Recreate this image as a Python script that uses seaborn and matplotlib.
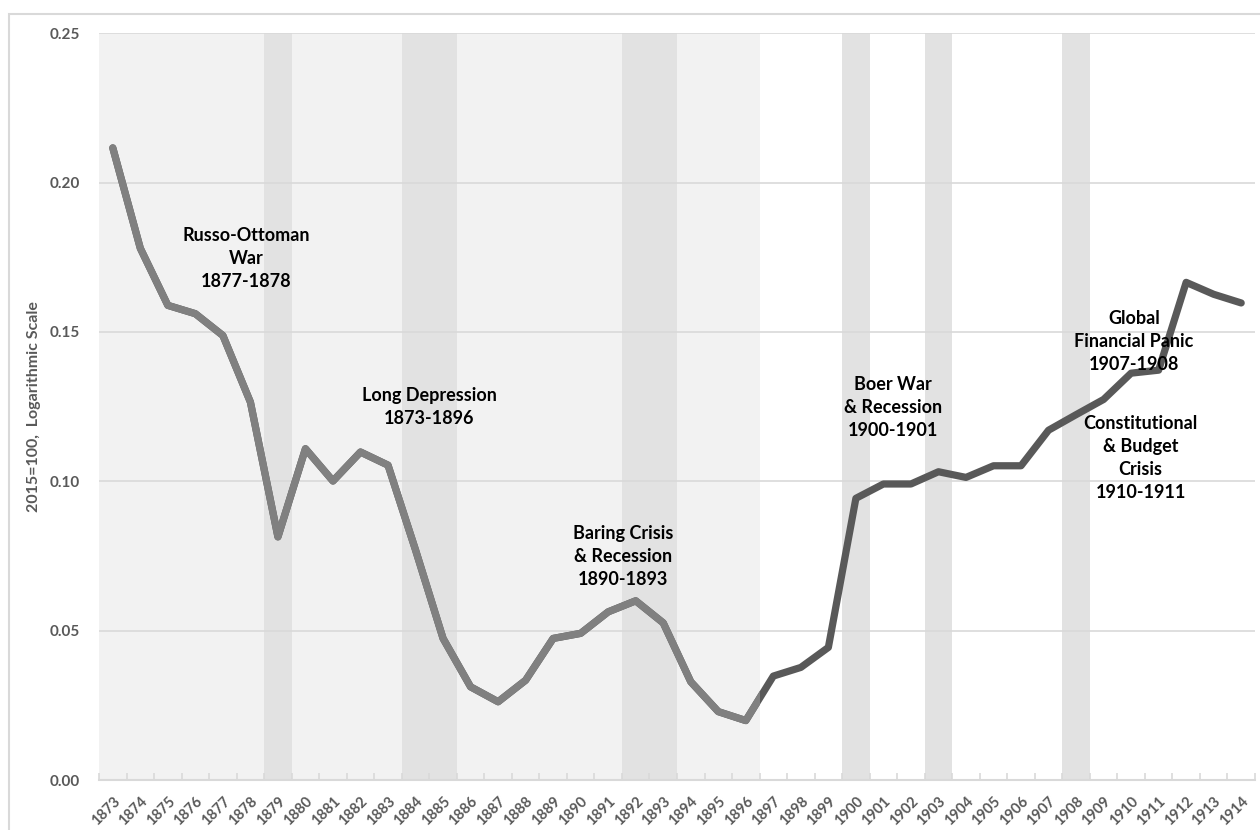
import numpy as np
import pandas as pd
import matplotlib
matplotlib.use("Agg")
import matplotlib.pyplot as plt
from matplotlib.patches import Rectangle
import seaborn as sns

# index values (2015=100)
years = list(range(1873, 1915))
values = [0.2116, 0.178, 0.1589, 0.1561, 0.1488, 0.1265, 0.0814, 0.1109, 0.1001, 0.1098,
          0.1054, 0.077, 0.0474, 0.0312, 0.0262, 0.0334, 0.0474, 0.0491, 0.0563, 0.0600,
          0.0526, 0.0329, 0.0229, 0.0199, 0.0348, 0.0377, 0.0444, 0.0943, 0.0991, 0.0991,
          0.1032, 0.1013, 0.1052, 0.1052, 0.1171, 0.1223, 0.1274, 0.1362, 0.1372, 0.1666,
          0.1626, 0.1597]

long_depression = (1873, 1896)
crisis_years = [[1879], [1884, 1885], [1892, 1893], [1900], [1903], [1908]]

labels = ["Russo-Ottoman\nWar\n1877-1878",
          "Long Depression\n1873-1896",
          "Baring Crisis\n& Recession\n1890-1893",
          "Boer War\n& Recession\n1900-1901",
          "Global\nFinancial Panic\n1907-1908",
          "Constitutional\n& Budget\nCrisis\n1910-1911"]
label_x = [1877.85, 1884.5, 1891.55, 1901.35, 1910.1, 1910.35]
label_y = [0.1746, 0.1249, 0.0749, 0.1247, 0.1468, 0.1077]

df = pd.DataFrame({"year": years, "index": values})

sns.set_style("white")
plt.rcParams["font.family"] = ["Lato", "DejaVu Sans"]

fig = plt.figure(figsize=(12.6, 8.3), dpi=100)
ax = fig.add_axes([0.0786, 0.0602, 0.9174, 0.8998])

# outer chart frame
fig.patches.append(Rectangle((9 / 1260, -0.05), 1.1, 1 - 14 / 830 + 0.05,
                             transform=fig.transFigure, fill=False,
                             edgecolor="#d9d9d9", lw=1.5, zorder=0))

# shading
bg = Rectangle((long_depression[0] - 0.5, 0), long_depression[1] - long_depression[0] + 1, 0.25,
               facecolor="#f2f2f2", edgecolor="none", zorder=0)
ax.add_patch(bg)
for yrs in crisis_years:
    ax.axvspan(min(yrs) - 0.5, max(yrs) + 0.5, ymin=0, ymax=1, color="#e2e2e2", lw=0, zorder=0.5)

ax.set_axisbelow(True)
ax.yaxis.grid(True, color="#d9d9d9", lw=1.2)
ax.xaxis.grid(False)

sns.lineplot(data=df, x="year", y="index", ax=ax, color="#595959", lw=5.2,
             solid_capstyle="round", solid_joinstyle="round", zorder=3)
sns.lineplot(data=df, x="year", y="index", ax=ax, color="#808080", lw=5.2,
             solid_capstyle="round", solid_joinstyle="round", zorder=4)
ax.lines[-1].set_clip_path(bg)

for txt, x, y in zip(labels, label_x, label_y):
    ax.text(x, y, txt, ha="center", va="center", fontsize=13, fontweight="bold",
            color="black", linespacing=1.42, zorder=5)

ax.set_xlim(1872.5, 1914.5)
ax.set_ylim(0, 0.25)
ax.set_xticks(years)
ax.set_xticklabels([str(y) for y in years], rotation=45, ha="right", rotation_mode="anchor",
                   fontsize=10.5, fontweight="bold", color="#595959")
ax.set_xticks(np.arange(1872.5, 1915, 1), minor=True)
ax.tick_params(axis="x", which="major", length=0, pad=10)
ax.tick_params(axis="x", which="minor", length=5, color="#d9d9d9", width=1.2, bottom=True,
               direction="in")
ax.set_yticks([0, 0.05, 0.10, 0.15, 0.20, 0.25])
ax.set_yticklabels(["0.00", "0.05", "0.10", "0.15", "0.20", "0.25"],
                   fontsize=11, fontweight="bold", color="#595959")
ax.tick_params(axis="y", length=0, pad=14)

ax.set_xlabel("")
ax.set_ylabel("2015=100,  Logarithmic Scale", fontsize=11.5, fontweight="bold",
              color="#595959", labelpad=6)

for s in ["top", "right", "left"]:
    ax.spines[s].set_visible(False)
ax.spines["bottom"].set_color("#d9d9d9")
ax.spines["bottom"].set_linewidth(1.5)

fig.savefig("out.png", dpi=100)
